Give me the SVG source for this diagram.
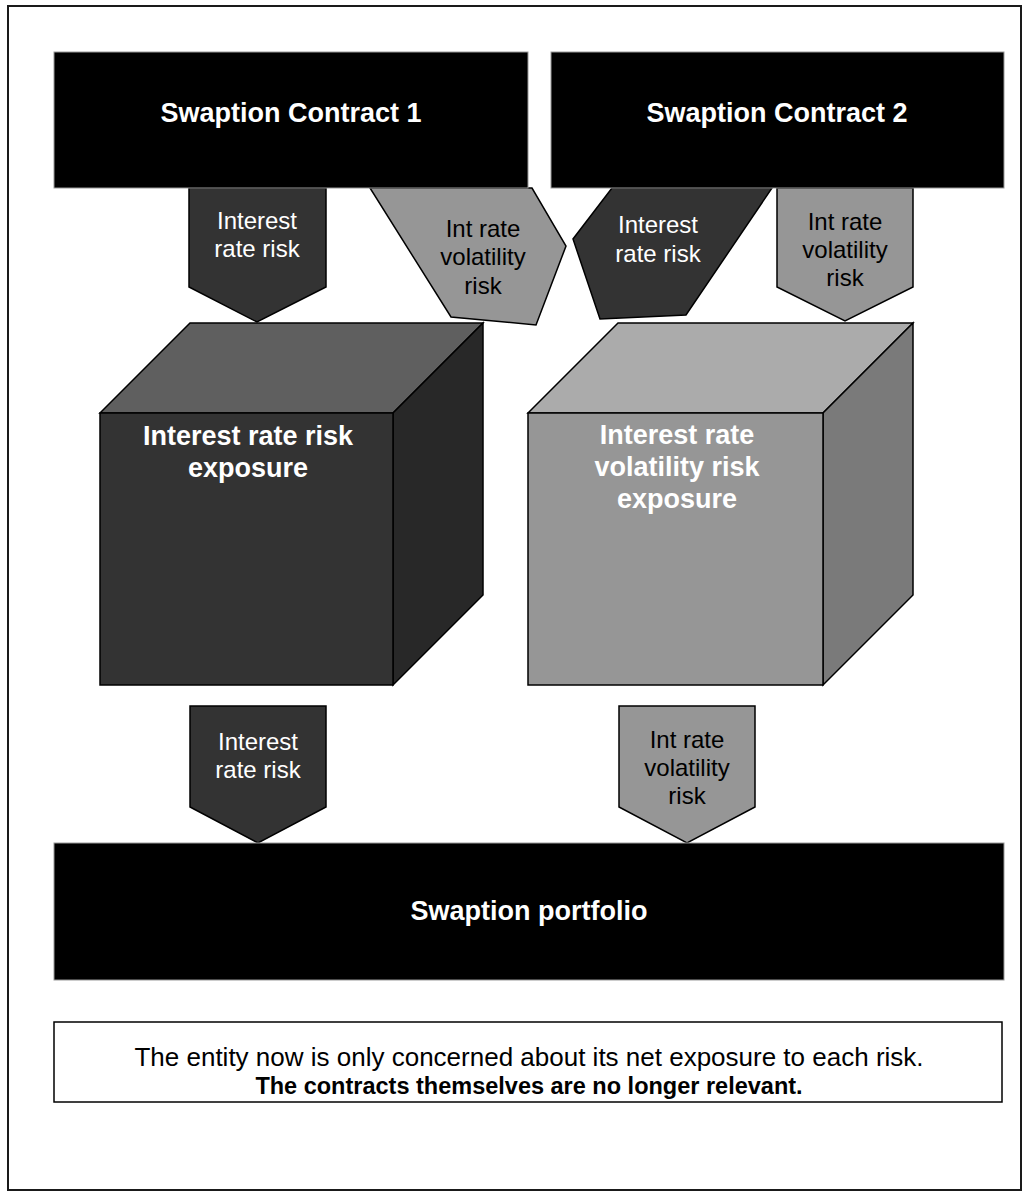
<svg xmlns="http://www.w3.org/2000/svg" width="1035" height="1198" viewBox="0 0 1035 1198">
<style>
.frame{fill:#fff;stroke:#1a1a1a;stroke-width:2}
.bar{fill:#000;stroke:#999;stroke-width:1}
.dark{fill:#333;stroke:#000;stroke-width:1.5;stroke-linejoin:miter}
.gray{fill:#969696;stroke:#000;stroke-width:1.5}
.c1f{fill:#333;stroke:#000;stroke-width:1.5}
.c1t{fill:#5f5f5f;stroke:#000;stroke-width:1.5}
.c1r{fill:#282828;stroke:#000;stroke-width:1.5}
.c2f{fill:#969696;stroke:#000;stroke-width:1.5}
.c2t{fill:#ababab;stroke:#000;stroke-width:1.5}
.c2r{fill:#7a7a7a;stroke:#000;stroke-width:1.5}
text{font-family:"Liberation Sans",Arial,sans-serif;text-anchor:middle}
.big{font-size:27px;font-weight:bold;fill:#fff}
.lw{font-size:24px;fill:#fff}
.lb{font-size:24px;fill:#000}
.note{font-size:26px;fill:#000}
.noteb{font-size:23.5px;fill:#000;font-weight:bold}
</style>
<rect class="frame" x="8" y="6" width="1013" height="1184"/>
<g id="connectors">
  <g id="arrow-c1-irr">
    <polygon class="dark" points="189,188 326,188 326,287 257,322 189,287"/>
    <text class="lw" x="257" y="229">Interest</text>
    <text class="lw" x="257" y="257">rate risk</text>
  </g>
  <g id="arrow-c1-vol">
    <polygon class="gray" points="370,188 532,188 566,246 536,325 451,317"/>
    <text class="lb" x="483" y="237">Int rate</text>
    <text class="lb" x="483" y="265">volatility</text>
    <text class="lb" x="483" y="294">risk</text>
  </g>
  <g id="arrow-c2-irr">
    <polygon class="dark" points="612,188 772,188 686,315 600,319 573,239"/>
    <text class="lw" x="658" y="233">Interest</text>
    <text class="lw" x="658" y="262">rate risk</text>
  </g>
  <g id="arrow-c2-vol">
    <polygon class="gray" points="777,188 913,188 913,287 845,321 777,287"/>
    <text class="lb" x="845" y="230">Int rate</text>
    <text class="lb" x="845" y="258">volatility</text>
    <text class="lb" x="845" y="286">risk</text>
  </g>
  <g id="arrow-irr-portfolio">
    <polygon class="dark" points="190,706 326,706 326,807 258,843 190,807"/>
    <text class="lw" x="258" y="750">Interest</text>
    <text class="lw" x="258" y="778">rate risk</text>
  </g>
  <g id="arrow-vol-portfolio">
    <polygon class="gray" points="619,706 755,706 755,807 687,843 619,807"/>
    <text class="lb" x="687" y="748">Int rate</text>
    <text class="lb" x="687" y="776">volatility</text>
    <text class="lb" x="687" y="804">risk</text>
  </g>
</g>
<g id="contract1">
  <rect class="bar" x="54" y="52" width="474" height="136"/>
  <text class="big" x="291" y="122">Swaption Contract 1</text>
</g>
<g id="contract2">
  <rect class="bar" x="551" y="52" width="453" height="136"/>
  <text class="big" x="777" y="122">Swaption Contract 2</text>
</g>
<g id="cube-irr">
  <polygon class="c1t" points="100,413 190,323 483,323 393,413"/>
  <polygon class="c1r" points="393,413 483,323 483,595 393,685"/>
  <rect class="c1f" x="100" y="413" width="293" height="272"/>
  <text class="big" x="248" y="445">Interest rate risk</text>
  <text class="big" x="248" y="477">exposure</text>
</g>
<g id="cube-vol">
  <polygon class="c2t" points="528,413 618,323 913,323 823,413"/>
  <polygon class="c2r" points="823,413 913,323 913,595 823,685"/>
  <rect class="c2f" x="528" y="413" width="295" height="272"/>
  <text class="big" x="677" y="444">Interest rate</text>
  <text class="big" x="677" y="476">volatility risk</text>
  <text class="big" x="677" y="508">exposure</text>
</g>
<g id="portfolio">
  <rect class="bar" x="54" y="843" width="950" height="137"/>
  <text class="big" x="529" y="920">Swaption portfolio</text>
</g>
<g id="note">
  <rect x="54" y="1022" width="948" height="80" fill="#fff" stroke="#000" stroke-width="1.5"/>
  <text class="note" x="529" y="1066">The entity now is only concerned about its net exposure to each risk.</text>
  <text class="noteb" x="529" y="1094">The contracts themselves are no longer relevant.</text>
</g>
</svg>
